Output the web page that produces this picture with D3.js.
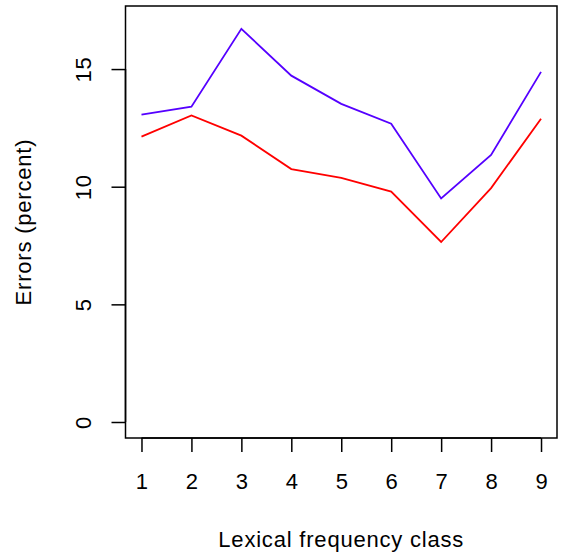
<!DOCTYPE html>
<html>
<head>
<meta charset="utf-8">
<script src="https://cdn.jsdelivr.net/npm/d3@7"></script>
<style>
  body { margin: 0; background: #fff; }
  text { font-family: "Liberation Sans", Arial, sans-serif; fill: #000; }
</style>
</head>
<body>
<div id="chart"></div>
<script>
// lexical frequency classes and error rates (percent)
var classes = [1, 2, 3, 4, 5, 6, 7, 8, 9];
var blueErrors = [13.06, 13.40, 16.71, 14.72, 13.52, 12.68, 9.50, 11.35, 14.88];
var redErrors = [12.13, 13.03, 12.17, 10.75, 10.38, 9.79, 7.65, 9.94, 12.89];
var yTicks = [0, 5, 10, 15];

var chartMain = function() {

    var width = 563, height = 555;
    var plotLeft = 125.5, plotRight = 557, plotTop = 6, plotBottom = 438;
    var fontSize = 22;
    var spacing = 0.8;

    var svg = d3.select("#chart").append("svg")
        .attr("width", width)
        .attr("height", height);

    var x = d3.scaleLinear().domain([0.68, 9.32]).range([plotLeft, plotRight]);
    var y = d3.scaleLinear().domain([-0.68, 17.68]).range([plotBottom, plotTop]);

    var line = d3.line()
        .x(function(d) { return x(d[0]); })
        .y(function(d) { return y(d[1]); });

    var series = [
        { values: blueErrors, color: "#5500ff" },
        { values: redErrors, color: "#ff0000" }
    ];

    series.forEach(function(s) {
        svg.append("path")
            .datum(classes.map(function(c, i) { return [c, s.values[i]]; }))
            .attr("d", line)
            .attr("fill", "none")
            .attr("stroke", s.color)
            .attr("stroke-width", 1.8)
            .attr("stroke-linejoin", "miter");
    });

    // box round the plot
    svg.append("rect")
        .attr("x", plotLeft).attr("y", plotTop)
        .attr("width", plotRight - plotLeft).attr("height", plotBottom - plotTop)
        .attr("fill", "none").attr("stroke", "#000").attr("stroke-width", 1.5);

    // x axis
    var xAxis = d3.axisBottom(x).tickValues(classes).tickSize(14).tickPadding(0);
    var gx = svg.append("g").attr("transform", "translate(0," + plotBottom + ")").call(xAxis);
    gx.attr("font-size", null).attr("font-family", null);
    gx.select(".domain").attr("d", "M" + x(1) + ",0H" + x(9)).attr("stroke-width", 1.5);
    gx.selectAll(".tick line").attr("stroke-width", 1.5);
    gx.selectAll(".tick text").attr("font-size", fontSize).attr("dy", null).attr("y", 51);

    // y axis
    var yAxis = d3.axisLeft(y).tickValues(yTicks).tickSize(14).tickPadding(0);
    var gy = svg.append("g").attr("transform", "translate(" + plotLeft + ",0)").call(yAxis);
    gy.attr("font-size", null).attr("font-family", null);
    gy.select(".domain").attr("d", "M0," + y(0) + "V" + y(15)).attr("stroke-width", 1.5);
    gy.selectAll(".tick line").attr("stroke-width", 1.5);
    gy.selectAll(".tick text")
        .attr("font-size", fontSize)
        .attr("letter-spacing", spacing)
        .attr("x", null).attr("dy", null)
        .attr("text-anchor", "middle")
        .attr("transform", "translate(-35,0) rotate(-90)");

    // axis titles
    svg.append("text")
        .attr("x", (plotLeft + plotRight) / 2).attr("y", 547)
        .attr("text-anchor", "middle").attr("font-size", fontSize)
        .attr("letter-spacing", spacing)
        .text("Lexical frequency class");

    svg.append("text")
        .attr("transform", "translate(31," + ((plotTop + plotBottom) / 2) + ") rotate(-90)")
        .attr("text-anchor", "middle").attr("font-size", fontSize)
        .attr("letter-spacing", spacing)
        .text("Errors (percent)");
};

chartMain();
</script>
</body>
</html>
